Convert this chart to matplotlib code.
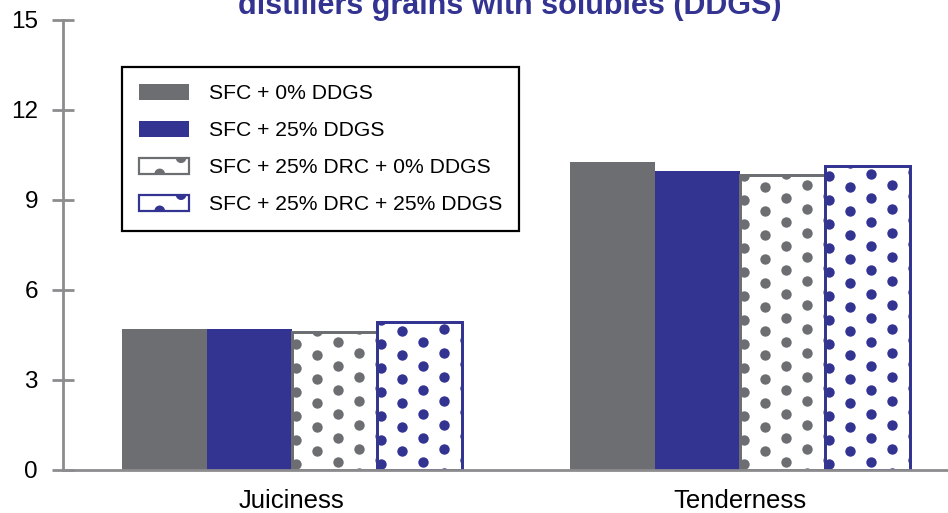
import matplotlib
matplotlib.use("Agg")
import matplotlib.pyplot as plt
import numpy as np
from matplotlib.patches import Rectangle, Circle
from matplotlib.legend_handler import HandlerBase

plt.rcParams['font.family'] = ['Liberation Sans', 'DejaVu Sans']

categories = ["Juiciness", "Tenderness"]
series_names = ["SFC + 0% DDGS", "SFC + 25% DDGS",
                "SFC + 25% DRC + 0% DDGS", "SFC + 25% DRC + 25% DDGS"]
sfc_0 = [4.7, 10.27]
sfc_25 = [4.7, 9.97]
drc_0 = [4.6, 9.83]
drc_25 = [4.93, 10.13]
yticks = [0, 3, 6, 9, 12, 15]
title_text = "distillers grains with solubles (DDGS)"

GREY = "#6d6e71"
BLUE = "#333391"
AXC = "#8c8c8e"

series = [sfc_0, sfc_25, drc_0, drc_25]
colors = [GREY, BLUE, GREY, BLUE]
dotted = [False, False, True, True]

fig = plt.figure(figsize=(9.48, 5.13), dpi=100)
ax = fig.add_axes([63/948, 43/513, 1 - 63/948, 450/513])
ax.set_xlim(-0.511, 1.464)
ax.set_ylim(0, 15)

x = np.arange(len(categories))
w = 0.19
offsets = [-1.5, -0.5, 0.5, 1.5]

fig.canvas.draw()
inv = ax.transData.inverted()

def add_dots(rect, color):
    # texture of staggered dots, clipped to the bar
    bb = rect.get_window_extent(fig.canvas.get_renderer())
    dx, dy = 21.0, 24.0
    shift = 13.0
    pts = []
    col = 0
    xx = bb.x0 + 4
    while xx < bb.x1 + dx:
        yoff = (col * shift) % dy
        yy = bb.y0 - dy + yoff + 6
        while yy < bb.y1 + dy:
            pts.append((xx, yy))
            yy += dy
        xx += dx
        col += 1
    pts = np.array(pts)
    d = inv.transform(pts)
    sc = ax.scatter(d[:, 0], d[:, 1], s=56, color=color, linewidths=0, zorder=3)
    sc.set_clip_path(rect)

for i, (vals, c, dt) in enumerate(zip(series, colors, dotted)):
    pos = x + offsets[i] * w
    if dt:
        bars = ax.bar(pos, vals, width=w, facecolor="white", edgecolor=c,
                      linewidth=2, zorder=2)
        for r in bars:
            add_dots(r, c)
            ax.add_patch(Rectangle(r.get_xy(), r.get_width(), r.get_height(),
                                   facecolor="none", edgecolor=c, linewidth=2, zorder=4))
    else:
        ax.bar(pos, vals, width=w, color=c, linewidth=0, zorder=2)

for s in ["top", "right"]:
    ax.spines[s].set_visible(False)
for s in ["left", "bottom"]:
    ax.spines[s].set_color(AXC)
    ax.spines[s].set_linewidth(2)
    ax.spines[s].set_zorder(5)

ax.set_yticks(yticks)
ax.set_yticklabels([str(t) for t in yticks], fontsize=17.5)
ax.tick_params(axis='y', direction='inout', length=16, width=2, color=AXC, pad=10)
ax.set_xticks(x)
ax.set_xticklabels(categories, fontsize=18.5)
ax.tick_params(axis='x', length=0, pad=14)

fig.text(510/948, 1 - 14/513, title_text, ha='center', va='baseline',
         fontsize=22, fontweight='bold', color=BLUE)


class DotHandler(HandlerBase):
    def __init__(self, color, dots):
        super().__init__()
        self.color = color
        self.dots = dots

    def create_artists(self, legend, orig_handle, xdescent, ydescent,
                       width, height, fontsize, trans):
        arts = []
        if not self.dots:
            arts.append(Rectangle((-xdescent, -ydescent), width, height,
                                  facecolor=self.color, edgecolor='none', transform=trans))
        else:
            r = Rectangle((-xdescent, -ydescent), width, height,
                          facecolor='white', edgecolor='none', transform=trans)
            arts.append(r)
            rad = height * 0.33
            for (fx, fy) in [(0.42, 0.0), (0.85, 1.0)]:
                cc = Circle((-xdescent + fx * width, -ydescent + fy * height), rad,
                            facecolor=self.color, edgecolor='none', transform=trans)
                cc.set_clip_path(r)
                arts.append(cc)
            arts.append(Rectangle((-xdescent, -ydescent), width, height,
                                  facecolor='none', edgecolor=self.color, linewidth=1.6,
                                  transform=trans))
        return arts

handles = [Rectangle((0, 0), 1, 1) for _ in range(4)]
hmap = {h: DotHandler(c, d) for h, c, d in zip(handles, colors, dotted)}
leg = fig.legend(handles, series_names, handler_map=hmap,
                 loc='upper left', bbox_to_anchor=(122/948, 1 - 67/513),
                 bbox_transform=fig.transFigure, borderaxespad=0,
                 fontsize=15.2, handlelength=2.35, handleheight=0.8,
                 handletextpad=0.95, labelspacing=0.83, borderpad=0.8,
                 fancybox=False, framealpha=1)
leg.get_frame().set_edgecolor('black')
leg.get_frame().set_linewidth(1.6)

fig.savefig("out.png", dpi=100)
